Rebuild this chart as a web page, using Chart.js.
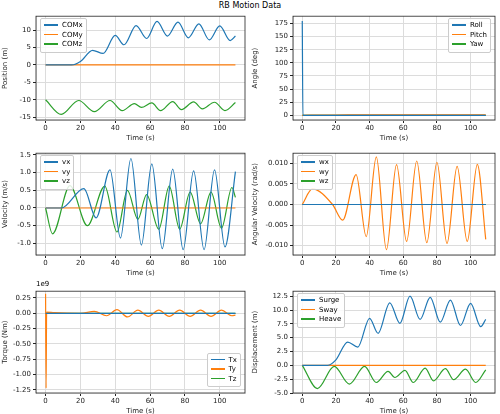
<!DOCTYPE html>
<html><head><meta charset="utf-8">
<script src="https://cdn.jsdelivr.net/npm/chart.js@4"></script>
<style>
body{margin:0;width:500px;height:414px;background:#fff;position:relative;font-family:"DejaVu Sans";overflow:hidden}
.p{position:absolute}
.lg{position:absolute;background:rgba(255,255,255,0.85);border:1px solid #ccc;border-radius:2px;font-size:7px;padding:2px 3px;line-height:9.5px}
.lg span{display:inline-block;width:14px;height:1.5px;vertical-align:middle;margin-right:4px}
#title{position:absolute;top:1px;width:500px;text-align:center;font-size:8px}
</style></head><body>
<div id="title">RB Motion Data</div>
<div class="p" style="left:0;top:10px;width:250px;height:132px"><canvas id="c1"></canvas></div>
<div class="p" style="left:250px;top:10px;width:250px;height:132px"><canvas id="c2"></canvas></div>
<div class="p" style="left:0;top:147px;width:250px;height:130px"><canvas id="c3"></canvas></div>
<div class="p" style="left:250px;top:147px;width:250px;height:130px"><canvas id="c4"></canvas></div>
<div class="p" style="left:0;top:285px;width:250px;height:130px"><canvas id="c5"></canvas></div>
<div class="p" style="left:250px;top:285px;width:250px;height:130px"><canvas id="c6"></canvas></div>
<div style="position:absolute;left:36px;top:280px;font-size:7px">1e9</div>
<script>
const BLUE = '#1f77b4', ORANGE = '#ff7f0e', GREEN = '#2ca02c';

// position / displacement
const tX = [0, 15, 20, 27, 33, 40, 45, 52, 58, 64, 70, 76, 82, 88, 94, 100, 106, 109];
const comX = [0, 0, 1, 4.2, 3.3, 8.5, 5.8, 11.3, 7.6, 12.5, 8.3, 12.3, 7.8, 11.8, 7.2, 11.2, 7, 8.3];
const tZ = [0, 9, 19, 28, 37, 44, 51, 55, 61, 66, 73, 78, 85, 90, 97, 103, 109];
const comZ = [-10, -14.2, -10.2, -13.4, -10.2, -13.1, -11.1, -12.2, -10.9, -13.1, -10.5, -12.8, -10.6, -12.6, -10.7, -13.1, -10.8];
const heave = [0, -4.2, -0.2, -3.4, -0.2, -3.1, -1.1, -2.2, -0.9, -3.1, -0.5, -2.8, -0.6, -2.6, -0.7, -3.1, -0.8];
const tFlat = [0, 109];
const zeros = [0, 0];

// angles
const tRoll = [0, 0.4, 1, 109];
const roll = [180, 0, 0, 0];
const tPitch = [0, 20, 40, 60, 80, 100, 109];
const pitch = [0, 0.5, 1, 1, 1, 1, 1];

// velocity
const tVx = [0, 9, 22, 29, 37, 43, 49, 55, 61, 67, 73, 79, 85, 91, 97, 103, 109];
const vx = [0, 0, 0.55, -0.28, 1.08, -0.85, 1.4, -1.05, 1.25, -1.15, 1.1, -1.18, 1.05, -1.18, 1.08, -1.1, 1.03];
const tVz = [0, 4, 14, 24, 34, 41, 47, 53, 58, 65, 71, 77, 83, 89, 95, 101, 107, 109];
const vz = [0, -0.73, 0.63, -0.5, 0.62, -0.68, 0.5, -0.32, 0.38, -0.6, 0.62, -0.6, 0.45, -0.45, 0.45, -0.57, 0.58, 0.3];

// angular velocity
const tWy = [0, 6, 18, 24, 32, 38, 44, 50, 56, 62, 68, 74, 80, 86, 92, 98, 104, 109];
const wy = [0, 0.0038, 0, -0.0038, 0.0073, -0.0078, 0.0116, -0.011, 0.0097, -0.009, 0.0106, -0.0093, 0.0103, -0.0095, 0.0093, -0.009, 0.0098, -0.0085];

// torque (x1e9)
const tTy = [0, 0.3, 0.6, 5, 20, 28, 35, 41, 47, 53, 59, 65, 71, 77, 83, 89, 95, 101, 107, 109];
const ty = [0.32, -1.22, 0.02, 0.01, 0, 0.03, -0.04, 0.06, -0.06, 0.05, -0.05, 0.05, -0.05, 0.05, -0.05, 0.05, -0.05, 0.05, -0.04, -0.03];

const pts = (t, v) => t.map((x, i) => ({x: x, y: v[i]}));
const ser = (label, t, v, color, tension) => ({label, data: pts(t, v), borderColor: color, borderWidth: 1.2, pointRadius: 0, tension: tension ?? 0.4, cubicInterpolationMode: 'monotone'});

const frame = {id: 'frame', afterDraw(c) {
    const a = c.chartArea, g = c.ctx;
    g.save(); g.strokeStyle = '#222'; g.lineWidth = 0.8;
    g.strokeRect(a.left, a.top, a.right - a.left, a.bottom - a.top); g.restore();
}};

const makeChart = (id, datasets, yTitle, ymin, ymax, ystep, yw, fmt, legend) => {
    const font = {family: 'DejaVu Sans', size: 7};
    new Chart(document.getElementById(id), {
        type: 'line',
        data: {datasets},
        options: {
            animation: false, responsive: true, maintainAspectRatio: false,
            layout: {padding: {top: 5, right: 5}},
            plugins: {legend: {display: false}, tooltip: {enabled: false}},
            scales: {
                x: {type: 'linear', min: -5.5, max: 114.5,
                    afterBuildTicks: s => { s.ticks = [0, 20, 40, 60, 80, 100].map(v => ({value: v})); },
                    afterFit: s => { s.height = 22; },
                    grid: {color: '#dcdcdc', tickLength: 3, tickColor: '#222'},
                    ticks: {font, color: '#222', padding: 1, maxRotation: 0},
                    title: {display: true, text: 'Time (s)', font, color: '#222', padding: 0}},
                y: {min: ymin, max: ymax,
                    afterBuildTicks: s => { const t = []; for (let v = Math.ceil(ymin / ystep) * ystep; v <= ymax + 1e-9; v += ystep) t.push({value: +v.toFixed(6)}); s.ticks = t; },
                    afterFit: s => { s.width = yw; },
                    grid: {color: '#dcdcdc', tickLength: 3, tickColor: '#222'},
                    ticks: {font, color: '#222', padding: 2, callback: fmt},
                    title: {display: true, text: yTitle, font, color: '#222', padding: 1}}
            }
        },
        plugins: [frame]
    });
    const box = document.getElementById(id).parentNode;
    const lg = document.createElement('div');
    lg.className = 'lg';
    Object.assign(lg.style, legend);
    lg.innerHTML = datasets.map(d => `<div><span style="background:${d.borderColor}"></span>${d.label}</div>`).join('');
    box.appendChild(lg);
};

makeChart('c1', [ser('COMx', tX, comX, BLUE), ser('COMy', tFlat, zeros, ORANGE), ser('COMz', tZ, comZ, GREEN)],
    'Position (m)', -15.8, 14, 5, 36, v => v.toFixed(0), {left: '40px', top: '8px'});
makeChart('c2', [ser('Roll', tRoll, roll, BLUE, 0), ser('Pitch', tPitch, pitch, ORANGE), ser('Yaw', tFlat, zeros, GREEN)],
    'Angle (deg)', -9, 189, 25, 43, v => v.toFixed(0), {right: '9px', top: '8px'});
makeChart('c3', [ser('vx', tVx, vx, BLUE), ser('vy', tFlat, zeros, ORANGE), ser('vz', tVz, vz, GREEN)],
    'Velocity (m/s)', -1.33, 1.55, 0.5, 36, v => v.toFixed(1), {left: '40px', top: '8px'});
makeChart('c4', [ser('wx', tFlat, zeros, BLUE), ser('wy', tWy, wy, ORANGE), ser('wz', tFlat, zeros, GREEN)],
    'Angular Velocity (rad/s)', -0.0123, 0.0125, 0.005, 43, v => v.toFixed(3), {left: '47px', top: '8px'});
makeChart('c5', [ser('Tx', tFlat, zeros, BLUE), ser('Ty', tTy, ty, ORANGE, 0.2), ser('Tz', tFlat, zeros, GREEN)],
    'Torque (Nm)', -1.3, 0.36, 0.25, 36, v => v.toFixed(2), {right: '9px', bottom: '28px'});
makeChart('c6', [ser('Surge', tX, comX, BLUE), ser('Sway', tFlat, zeros, ORANGE), ser('Heave', tZ, heave, GREEN)],
    'Displacement (m)', -5, 13.4, 2.5, 43, v => v.toFixed(1), {left: '47px', top: '8px'});
</script>
</body></html>
